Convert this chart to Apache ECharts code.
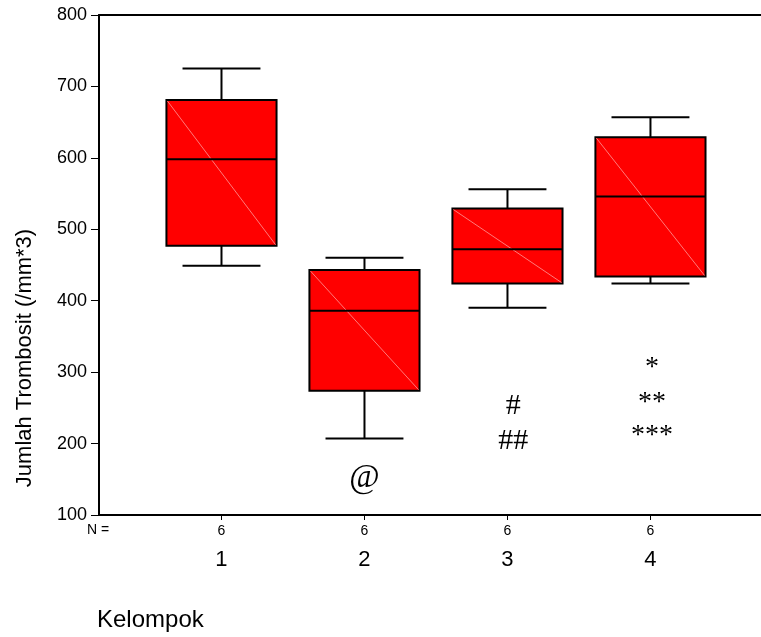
<!DOCTYPE html>
<html>
<head>
	<meta charset="utf-8">
	<title>Jumlah Trombosit</title>
	<style>
		html, body { margin: 0; padding: 0; background: #fff; }
		#chart { width: 761px; height: 637px; }
	</style>
</head>
<body>
<div id="chart"></div>
<script src="https://cdn.jsdelivr.net/npm/echarts@6/dist/echarts.min.js"></script>
<script>
// data per kelompok
var groups  = [1, 2, 3, 4];
var counts  = [6, 6, 6, 6];
var mins    = [449, 207, 390, 424];
var q1s     = [477, 274, 424, 434];
var medians = [598, 386, 472, 546];
var q3s     = [681, 443, 529, 629];
var maxs    = [725, 460, 556, 657];

// significance marks under the boxes
var markX    = [2, 3.04, 3.04, 4.01, 4.01, 4.01];
var markY    = [152, 252, 204, 306, 258, 211];
var markText = ['@', '#', '##', '*', '**', '***'];

var yTicks = [100, 200, 300, 400, 500, 600, 700, 800];

var boxData = groups.map(function (g, i) {
	return [g, mins[i], q1s[i], medians[i], q3s[i], maxs[i]];
});
var markData = markText.map(function (t, i) {
	return [markX[i], markY[i]];
});

var FONT = '"Liberation Sans", Arial, sans-serif';
var SERIF = '"Liberation Serif", "Times New Roman", serif';

function renderBox(params, api) {
	var x = api.value(0);
	var halfBox = api.size([0.77, 0])[0] / 2;
	var halfCap = api.size([0.545, 0])[0] / 2;
	var pMin = api.coord([x, api.value(1)]);
	var pQ1 = api.coord([x, api.value(2)]);
	var pMed = api.coord([x, api.value(3)]);
	var pQ3 = api.coord([x, api.value(4)]);
	var pMax = api.coord([x, api.value(5)]);
	var cx = pMed[0];
	var line = { stroke: '#000', lineWidth: 2 };
	return {
		type: 'group',
		children: [
			{ type: 'line', shape: { x1: cx, y1: pMax[1], x2: cx, y2: pQ3[1] }, style: line },
			{ type: 'line', shape: { x1: cx - halfCap, y1: pMax[1], x2: cx + halfCap, y2: pMax[1] }, style: line },
			{ type: 'line', shape: { x1: cx, y1: pQ1[1], x2: cx, y2: pMin[1] }, style: line },
			{ type: 'line', shape: { x1: cx - halfCap, y1: pMin[1], x2: cx + halfCap, y2: pMin[1] }, style: line },
			{ type: 'rect', shape: { x: cx - halfBox, y: pQ3[1], width: halfBox * 2, height: pQ1[1] - pQ3[1] },
				style: { fill: '#ff0000', stroke: '#000', lineWidth: 2 } },
			{ type: 'line', shape: { x1: cx - halfBox + 1, y1: pQ3[1] + 1, x2: cx + halfBox - 1, y2: pQ1[1] - 1 },
				style: { stroke: '#ff7a7a', lineWidth: 1 } },
			{ type: 'line', shape: { x1: cx - halfBox, y1: pMed[1], x2: cx + halfBox, y2: pMed[1] }, style: line }
		]
	};
}

function renderMark(params, api) {
	var p = api.coord([api.value(0), api.value(1)]);
	var t = markText[params.dataIndex];
	var size = t === '@' ? 33 : (t.charAt(0) === '#' ? 30 : 28);
	return {
		type: 'text',
		x: p[0], y: p[1],
		style: {
			text: t,
			fill: '#000',
			font: size + 'px ' + SERIF,
			align: 'center',
			verticalAlign: 'middle'
		}
	};
}

var chart = echarts.init(document.getElementById('chart'));
chart.setOption({
	backgroundColor: '#fff',
	animation: false,
	grid: { left: 99, right: 0, top: 15, bottom: 122 },
	xAxis: [{
		type: 'value',
		min: 0.1434,
		max: 4.773,
		splitLine: { show: false },
		axisLine: { onZero: false, lineStyle: { color: '#000', width: 2 } },
		axisTick: { customValues: groups, length: 5, lineStyle: { color: '#000', width: 1 } },
		axisLabel: {
			customValues: groups,
			margin: 6,
			formatter: function (v) {
				var i = groups.indexOf(v);
				return '{n|' + counts[i] + '}\n{g|' + v + '}';
			},
			rich: {
				n: { fontFamily: FONT, fontSize: 14, color: '#000', lineHeight: 20 },
				g: { fontFamily: FONT, fontSize: 22, color: '#000', lineHeight: 38 }
			}
		}
	}, {
		type: 'value',
		position: 'top',
		min: 0.1434,
		max: 4.773,
		splitLine: { show: false },
		axisLine: { onZero: false, lineStyle: { color: '#000', width: 2 } },
		axisTick: { show: false },
		axisLabel: { show: false }
	}],
	yAxis: {
		type: 'value',
		min: yTicks[0],
		max: yTicks[yTicks.length - 1],
		interval: 100,
		splitLine: { show: false },
		axisLine: { onZero: false, lineStyle: { color: '#000', width: 2 } },
		axisTick: { length: 8, lineStyle: { color: '#000', width: 1 } },
		axisLabel: { margin: 12, fontFamily: FONT, fontSize: 18, color: '#000' }
	},
	graphic: [
		{ type: 'text', x: 25, y: 358, rotation: Math.PI / 2,
			style: { text: 'Jumlah Trombosit (/mm*3)', font: '22px ' + FONT, fill: '#000',
				align: 'center', verticalAlign: 'middle' } },
		{ type: 'text', left: 87, top: 523, style: { text: 'N =', font: '14px ' + FONT, fill: '#000' } },
		{ type: 'text', left: 97, top: 608, style: { text: 'Kelompok', font: '24px ' + FONT, fill: '#000' } }
	],
	series: [{
		type: 'custom',
		renderItem: renderBox,
		data: boxData,
		encode: { x: 0, y: [1, 2, 3, 4, 5] },
		z: 3
	}, {
		type: 'custom',
		renderItem: renderMark,
		data: markData,
		encode: { x: 0, y: 1 },
		z: 4
	}]
});
</script>
</body>
</html>
